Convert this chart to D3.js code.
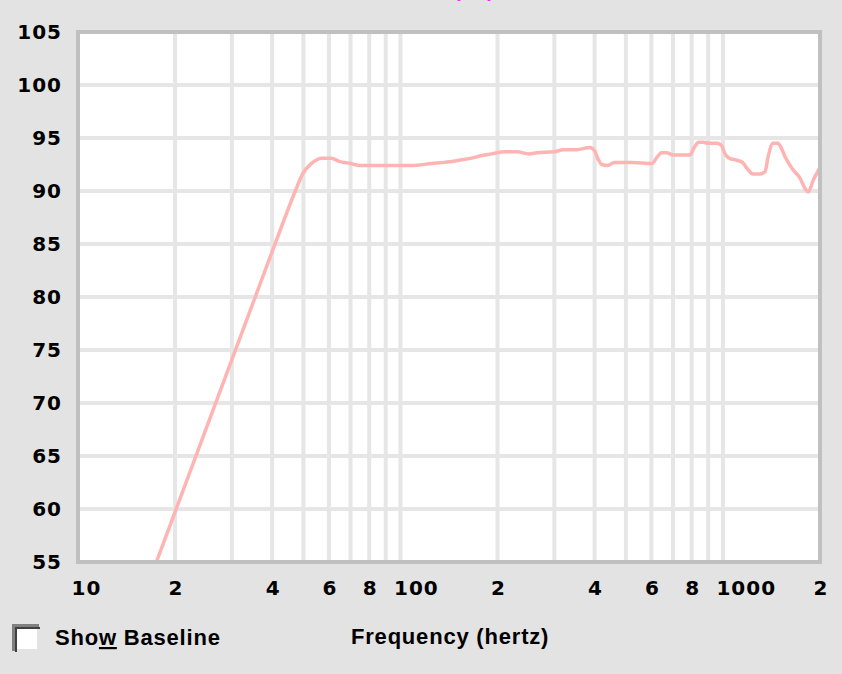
<!DOCTYPE html>
<html>
  <head>
    <meta charset="utf-8">
    <title>Frequency response</title>
    <script src="https://d3js.org/d3.v7.min.js"></script>
    <style>
      html, body { margin: 0; padding: 0; background: #e3e3e3; }
      svg { display: block; }
    </style>
  </head>
  <body>
    <script>
      // ==================
      // data
      // ==================
      const freqHz = [17.5, 40.6, 47.2, 49.7, 53, 57, 61, 64.5, 70, 75,
        86, 109, 125, 137, 152, 166, 176, 192, 210, 230, 250, 265, 300, 320, 352, 386, 400, 410,
        421, 440, 460, 525, 602, 625, 645, 670, 700, 790, 815, 840, 870, 900, 960, 990, 1015,
        1045, 1105, 1150, 1190, 1240, 1300, 1350, 1380, 1430, 1480, 1520, 1560, 1640, 1735,
        1800, 1840, 1904, 2000];
      const splDb = [55, 84.8, 90, 91.6, 92.6, 93.1, 93.1, 92.8, 92.6, 92.4,
        92.4, 92.4, 92.6, 92.7, 92.9, 93.1, 93.3, 93.5, 93.7, 93.7, 93.5, 93.6, 93.7, 93.9, 93.9, 94.1, 93.8, 93.0,
        92.5, 92.4, 92.7, 92.7, 92.6, 93.2, 93.6, 93.6, 93.4, 93.4, 94.1, 94.6, 94.6, 94.5, 94.5, 94.3, 93.5,
        93.1, 92.9, 92.7, 92.1, 91.6, 91.6, 91.8, 93.2, 94.5, 94.5, 94.0, 93.2, 92.1, 91.2,
        90.2, 89.9, 91.0, 92.2];

      const yTicks = [55, 60, 65, 70, 75, 80, 85, 90, 95, 100, 105];
      const xTicks = [10, 20, 40, 60, 80, 100, 200, 400, 600, 800, 1000, 2000];
      const xTickLabels = ["10", "2", "4", "6", "8", "100", "2", "4", "6", "8", "1000", "2"];
      const xGrid = [20, 30, 40, 50, 60, 70, 80, 90, 100, 200, 300, 400, 500, 600, 700, 800, 900, 1000];
      const yGrid = [60, 65, 70, 75, 80, 85, 90, 95, 100];

      const width = 842;
      const height = 674;
      const plot = {left: 78, top: 32, right: 820, bottom: 562};

      const svg = d3.select("body")
        .append("svg")
          .attr("width", width)
          .attr("height", height);

      const xScale = d3.scaleLog()
        .domain([10, 2000])
        .range([plot.left, plot.right]);

      const yScale = d3.scaleLinear()
        .domain([55, 105])
        .range([plot.bottom, plot.top]);

      // title scrolled off the top, only its lowest pixels show
      svg.append("text")
        .attr("x", 494)
        .attr("y", -3)
        .attr("text-anchor", "end")
        .attr("fill", "#ff22ff")
        .style("font", "bold 20px 'Liberation Sans'")
        .text("SPL (dB)");

      // plot background
      svg.append("rect")
        .attr("x", plot.left)
        .attr("y", plot.top)
        .attr("width", plot.right - plot.left)
        .attr("height", plot.bottom - plot.top)
        .attr("fill", "#ffffff");

      // grid
      svg.append("g")
        .selectAll("line")
        .data(xGrid)
        .join("line")
          .attr("x1", d => xScale(d))
          .attr("x2", d => xScale(d))
          .attr("y1", plot.top)
          .attr("y2", plot.bottom)
          .attr("stroke", "#e6e6e6")
          .attr("stroke-width", 4);

      svg.append("g")
        .selectAll("line")
        .data(yGrid)
        .join("line")
          .attr("x1", plot.left)
          .attr("x2", plot.right)
          .attr("y1", d => yScale(d))
          .attr("y2", d => yScale(d))
          .attr("stroke", "#e6e6e6")
          .attr("stroke-width", 4);

      // curve, clipped to the plot
      svg.append("clipPath")
        .attr("id", "plot-clip")
        .append("rect")
          .attr("x", plot.left)
          .attr("y", plot.top)
          .attr("width", plot.right - plot.left)
          .attr("height", plot.bottom - plot.top);

      const line = d3.line()
        .x(function(d) { return xScale(d[0]); })
        .y(function(d) { return yScale(d[1]); })
        .curve(d3.curveMonotoneX);

      svg.append("path")
        .attr("d", line(d3.zip(freqHz, splDb)))
        .attr("fill", "none")
        .attr("stroke", "#ffb4b4")
        .attr("stroke-width", 3.5)
        .attr("clip-path", "url(#plot-clip)");

      // frame
      svg.append("rect")
        .attr("x", plot.left)
        .attr("y", plot.top)
        .attr("width", plot.right - plot.left)
        .attr("height", plot.bottom - plot.top)
        .attr("fill", "none")
        .attr("stroke", "#c0c0c0")
        .attr("stroke-width", 4);

      // axes: labels only, no tick marks or domain line
      const yAxis = d3.axisLeft(yScale)
        .tickValues(yTicks)
        .tickSize(0)
        .tickPadding(16);

      svg.append("g")
        .attr("transform", "translate(" + plot.left + ",0)")
        .call(yAxis)
        .call(g => g.select(".domain").remove())
        .selectAll("text")
          .attr("fill", "#000")
          .style("font", "bold 20px 'DejaVu Sans'")
          .style("letter-spacing", "1px");

      const xAxis = d3.axisBottom(xScale)
        .tickValues(xTicks)
        .tickFormat((d, i) => xTickLabels[i])
        .tickSize(0)
        .tickPadding(19);

      svg.append("g")
        .attr("transform", "translate(0," + plot.bottom + ")")
        .call(xAxis)
        .call(g => g.select(".domain").remove())
        .selectAll("text")
          .attr("text-anchor", "start")
          .attr("dx", -7)
          .attr("fill", "#000")
          .style("font", "bold 20px 'DejaVu Sans'")
          .style("letter-spacing", "1px");

      // checkbox
      const box = svg.append("g").attr("transform", "translate(12,624)");
      box.append("rect").attr("width", 25).attr("height", 25).attr("fill", "#ffffff");
      box.append("path").attr("d", "M0,25 V0 H25").attr("fill", "none")
        .attr("stroke", "#808080").attr("stroke-width", 4).attr("transform", "translate(2,2)");
      box.append("path").attr("d", "M0,24 V0 H24").attr("fill", "none")
        .attr("stroke", "#404040").attr("stroke-width", 2).attr("transform", "translate(4,4)");

      const label = svg.append("text")
        .attr("x", 55)
        .attr("y", 645)
        .attr("fill", "#000")
        .style("font", "bold 22px 'Liberation Sans'")
        .style("letter-spacing", "0.8px");
      label.append("tspan").text("Sho");
      label.append("tspan").style("text-decoration", "underline").text("w");
      label.append("tspan").text(" Baseline");

      svg.append("text")
        .attr("x", 351)
        .attr("y", 644)
        .attr("fill", "#000")
        .style("font", "bold 22px 'Liberation Sans'")
        .style("letter-spacing", "0.8px")
        .text("Frequency (hertz)");
    </script>
  </body>
</html>
